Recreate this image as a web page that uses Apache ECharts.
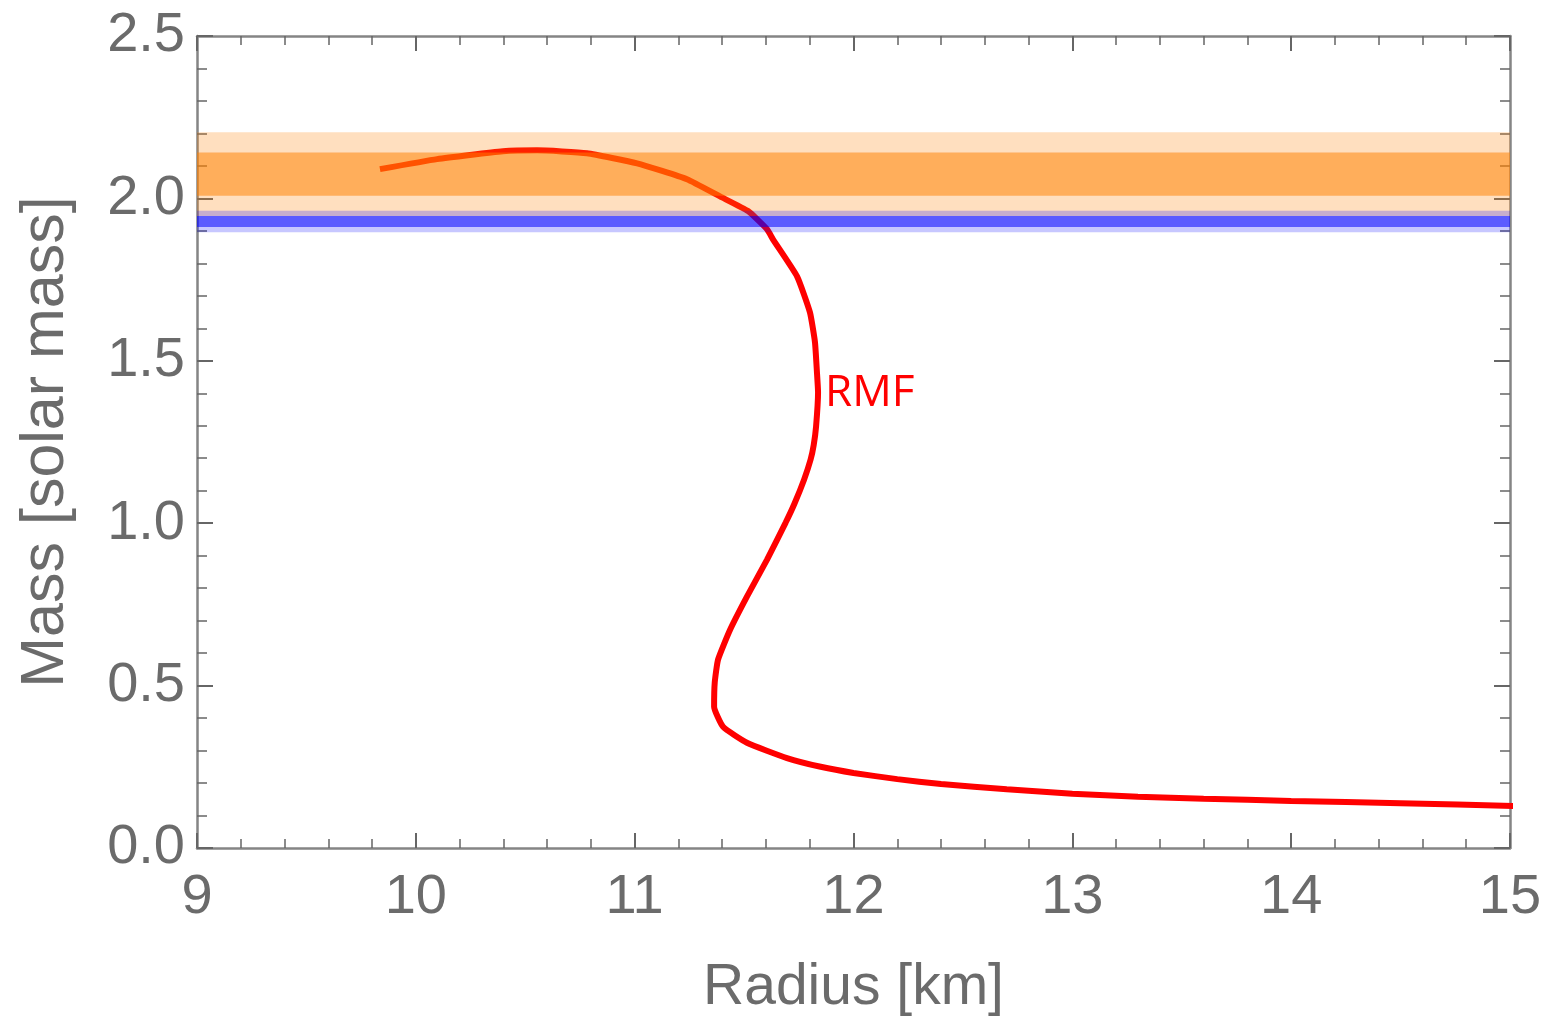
<!DOCTYPE html>
<html>
<head>
<meta charset="utf-8">
<script src="https://cdn.jsdelivr.net/npm/echarts@6/dist/echarts.min.js"></script>
<style>
html,body{margin:0;padding:0;background:#fff;}
#container-chart{width:1550px;height:1019px;}
</style>
</head>
<body>
<div id="container-chart"></div>
<script>
// mass-radius curve
var radius = [9.836, 10.097, 10.398, 10.554, 10.782, 11.011, 11.239, 11.390, 11.518, 11.605, 11.632,
    11.742, 11.801, 11.824, 11.833, 11.838, 11.829, 11.818, 11.804, 11.774, 11.730, 11.690, 11.605,
    11.513, 11.436, 11.381, 11.366, 11.363, 11.404, 11.513, 11.696, 11.850, 12.000, 12.200, 12.400,
    12.700, 13.000, 13.300, 13.600, 14.000, 14.500, 15.032];
var mass = [2.090, 2.121, 2.145, 2.148, 2.139, 2.108, 2.059, 2.006, 1.961, 1.905, 1.874,
    1.760, 1.649, 1.557, 1.464, 1.403, 1.298, 1.240, 1.196, 1.134, 1.060, 1.002, 0.888,
    0.774, 0.672, 0.580, 0.510, 0.435, 0.373, 0.324, 0.277, 0.250, 0.231, 0.212, 0.197,
    0.181, 0.167, 0.158, 0.152, 0.145, 0.138, 0.129];

// observed mass bands [low, high]
var orangeOuter = [1.946, 2.204];
var orangeInner = [2.008, 2.141];
var blueOuter = [1.896, 1.962];
var blueInner = [1.912, 1.946];

var curveLabel = 'RMF';
var labelPos = [11.87, 1.40];

var xTicks = [9, 10, 11, 12, 13, 14, 15];
var yTicks = [0.0, 0.5, 1.0, 1.5, 2.0, 2.5];

var myChart;

function band(b, color) {
    return [{yAxis: b[0], xAxis: xTicks[0], itemStyle: {color: color}}, {yAxis: b[1], xAxis: xTicks[xTicks.length - 1]}];
}

function myChartInit() {
    myChart = echarts.init(document.getElementById('container-chart'));

    var gray = '#6b6b6b';
    var points = [];
    for (var i = 0; i < radius.length; i++) {
        points.push([radius[i], mass[i]]);
    }

    function xAx(pos, showLabel) {
        return {
            type: 'value', position: pos,
            min: xTicks[0], max: xTicks[xTicks.length - 1], interval: 1,
            name: showLabel ? 'Radius [km]' : '', nameLocation: 'middle', nameGap: 112,
            nameTextStyle: {fontFamily: 'Liberation Sans', fontSize: 57, color: gray},
            axisLine: {show: true, onZero: false, lineStyle: {color: '#858585', width: 2.5}},
            axisTick: {show: true, inside: true, length: 15, lineStyle: {color: '#666', width: 2}},
            minorTick: {show: true, splitNumber: 5, length: 9, lineStyle: {color: '#666', width: 1.5}},
            axisLabel: {show: showLabel, margin: 22, fontFamily: 'Liberation Sans', fontSize: 56, color: gray},
            splitLine: {show: false}
        };
    }
    function yAx(pos, showLabel) {
        return {
            type: 'value', position: pos,
            min: yTicks[0], max: yTicks[yTicks.length - 1], interval: 0.5,
            name: showLabel ? 'Mass [solar mass]' : '', nameLocation: 'middle', nameGap: 120, nameRotate: 90,
            nameTextStyle: {fontFamily: 'Liberation Sans', fontSize: 61, color: gray},
            axisLine: {show: true, onZero: false, lineStyle: {color: '#858585', width: 2.5}},
            axisTick: {show: true, inside: true, length: 16, lineStyle: {color: '#666', width: 2}},
            minorTick: {show: true, splitNumber: 5, length: 10, lineStyle: {color: '#666', width: 1.5}},
            axisLabel: {show: showLabel, margin: 12, fontFamily: 'Liberation Sans', fontSize: 56, color: gray,
                formatter: function (v) { return v.toFixed(1); }},
            splitLine: {show: false}
        };
    }

    var option = {
        backgroundColor: '#fff',
        animation: false,
        grid: {left: 197, right: 40, top: 36, bottom: 171, outerBoundsMode: 'none'},
        xAxis: [xAx('bottom', true), xAx('top', false)],
        yAxis: [yAx('left', true), yAx('right', false)],
        series: [
            {
                name: 'RMF',
                type: 'line',
                z: 2,
                clip: false,
                showSymbol: false,
                smooth: 0.15,
                data: points,
                lineStyle: {color: '#ff0000', width: 6},
                markPoint: {
                    symbol: 'circle', symbolSize: 0,
                    data: [{coord: labelPos}],
                    label: {show: true, position: 'right', distance: 0, formatter: curveLabel,
                        fontFamily: 'Open Sans', fontSize: 44, color: '#ff0000'}
                }
            },
            {
                name: 'bands',
                type: 'line',
                z: 5,
                data: [],
                markArea: {
                    silent: true,
                    z: 10,
                    data: [
                        band(orangeOuter, 'rgba(255,128,0,0.25)'),
                        band(orangeInner, 'rgba(255,128,0,0.52)'),
                        band(blueOuter, 'rgba(0,0,255,0.22)'),
                        band(blueInner, 'rgba(0,0,255,0.54)')
                    ]
                }
            }
        ]
    };

    myChart.setOption(option);
}

myChartInit();
</script>
</body>
</html>
